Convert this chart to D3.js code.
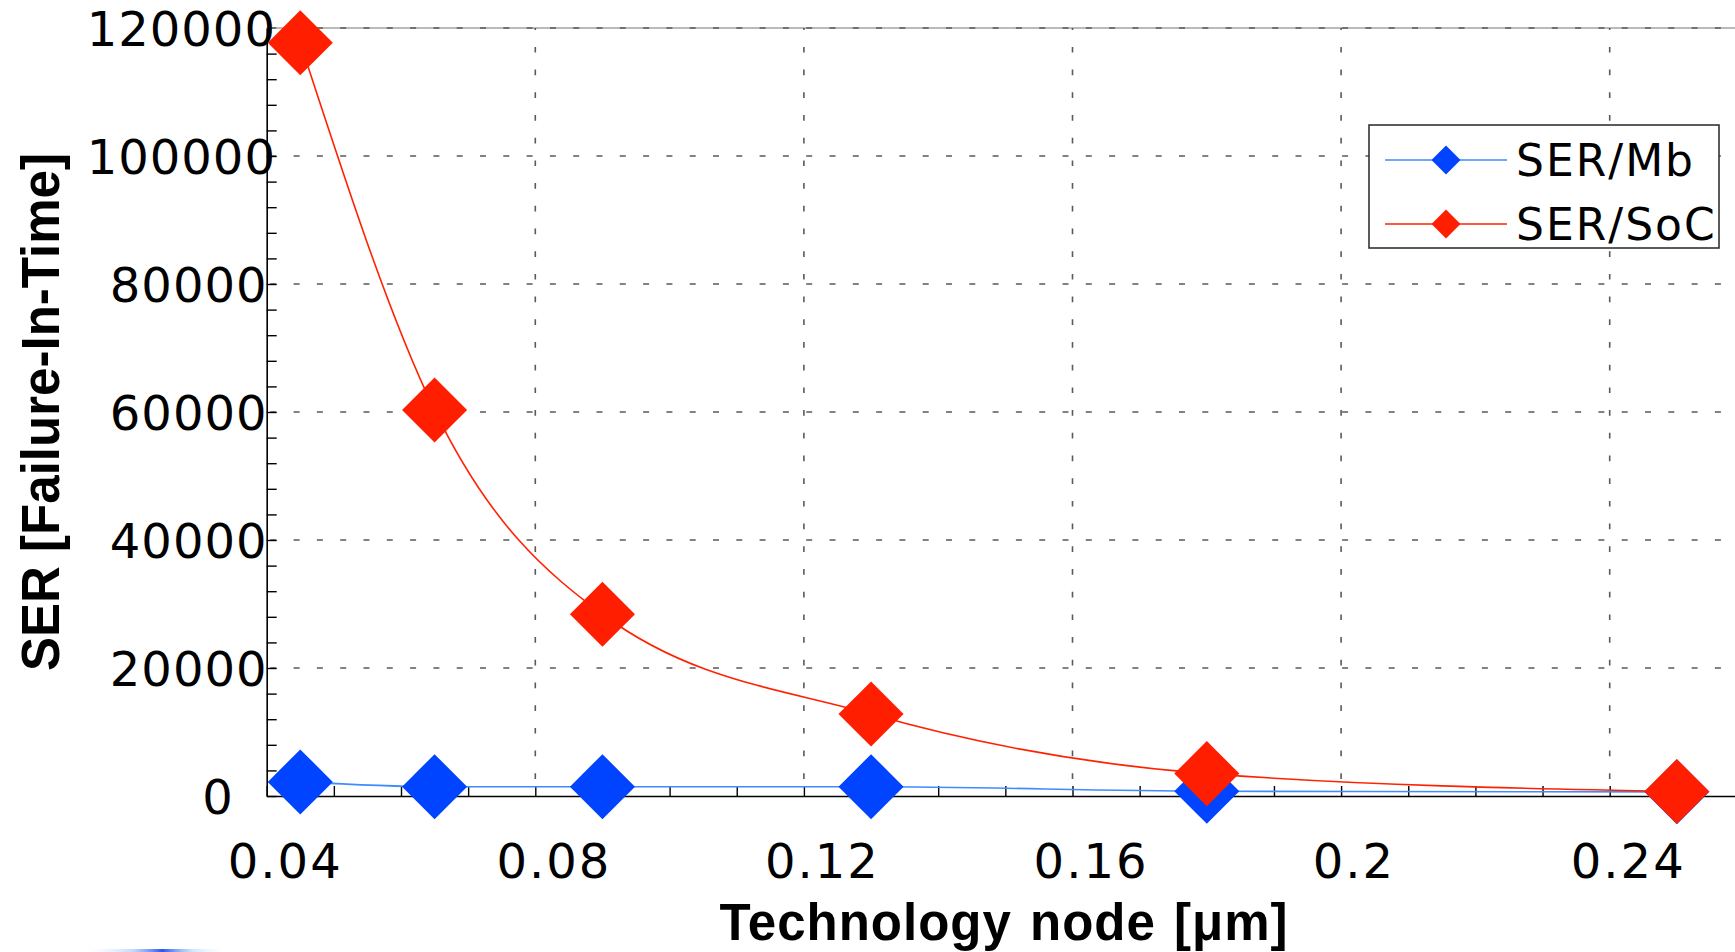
<!DOCTYPE html>
<html>
<head>
<meta charset="utf-8">
<script src="https://cdn.jsdelivr.net/npm/d3@7"></script>
<style>
    body { margin: 0; background: #fff; }
    svg { display: block; }
</style>
</head>
<body>
<div id="chart"></div>
<script>
// technology nodes (um) and soft error rates
var nodes = [0.045, 0.065, 0.09, 0.13, 0.18, 0.25];
var serMb = [2200, 1450, 1450, 1450, 750, 650];
var serSoc = [117700, 60300, 28400, 12800, 3500, 700];

var xTickValues = [0.04, 0.08, 0.12, 0.16, 0.2, 0.24];
var xTickLabels = ["0.04", "0.08", "0.12", "0.16", "0.2", "0.24"];
var yTickValues = [0, 20000, 40000, 60000, 80000, 100000, 120000];
var yTickLabels = ["0", "20000", "40000", "60000", "80000", "100000", "120000"];

var seriesNames = ["SER/Mb", "SER/SoC"];

var width = 1735;
var height = 952;

var x0 = 266.7;
var x = d3.scaleLinear()
    .domain([0.04, 0.26])
    .range([x0, x0 + 0.22 * 6715]);
var y = d3.scaleLinear()
    .domain([0, 120000])
    .range([796, 28]);

var svg = d3.select("#chart").append("svg")
    .attr("width", width)
    .attr("height", height)
    .attr("viewBox", "0 0 " + width + " " + height);

var tickFont = "'DejaVu Sans', 'Open Sans', sans-serif";
var boldFont = "'Liberation Sans', Arial, sans-serif";

// faint blue smear at the bottom edge (part of something cropped below)
var grad = svg.append("defs").append("linearGradient").attr("id", "smear");
grad.append("stop").attr("offset", "0%").attr("stop-color", "#ffffff").attr("stop-opacity", 0);
grad.append("stop").attr("offset", "35%").attr("stop-color", "#9cc2ff").attr("stop-opacity", 0.6);
grad.append("stop").attr("offset", "55%").attr("stop-color", "#2a56e8");
grad.append("stop").attr("offset", "75%").attr("stop-color", "#a8d8ff").attr("stop-opacity", 0.6);
grad.append("stop").attr("offset", "100%").attr("stop-color", "#ffffff").attr("stop-opacity", 0);
svg.append("rect")
    .attr("x", 80).attr("y", 949).attr("width", 150).attr("height", 3)
    .attr("fill", "url(#smear)");

// Grid
var grid = svg.append("g").attr("class", "grid");
grid.append("line")
    .attr("x1", x0).attr("x2", width)
    .attr("y1", y(120000)).attr("y2", y(120000))
    .attr("stroke", "#a3a3a3").attr("stroke-width", 1.5);

grid.selectAll(".hgrid")
    .data(yTickValues.filter(function (d) { return d > 0; }))
    .join("line")
    .attr("class", "hgrid")
    .attr("x1", x0).attr("x2", width)
    .attr("y1", function (d) { return y(d); })
    .attr("y2", function (d) { return y(d); })
    .attr("stroke", "#5a5a5a")
    .attr("stroke-width", 1.6)
    .attr("stroke-dasharray", "6,17.3")
    .attr("stroke-dashoffset", 19.7);

grid.selectAll(".vgrid")
    .data(xTickValues.filter(function (d) { return d > 0.04; }))
    .join("line")
    .attr("class", "vgrid")
    .attr("x1", function (d) { return x(d); })
    .attr("x2", function (d) { return x(d); })
    .attr("y1", y(0)).attr("y2", y(120000))
    .attr("stroke", "#5a5a5a")
    .attr("stroke-width", 1.6)
    .attr("stroke-dasharray", "5.7,17")
    .attr("stroke-dashoffset", 5.7);

// Y axis - minor ticks every 4000, pointing into the plot
var yMinor = d3.range(0, 30).map(function (i) { return i * 4000; });
var yAxis = svg.append("g")
    .attr("transform", "translate(" + x0 + ",0)")
    .call(d3.axisRight(y).tickValues(yMinor).tickSize(10).tickSizeOuter(0).tickFormat(""));
yAxis.select(".domain").attr("stroke", "#000").attr("stroke-width", 1.6);
yAxis.selectAll(".tick line").attr("stroke", "#000").attr("stroke-width", 1.4);

// X axis - minor ticks every 0.01, pointing up
var xMinor = d3.range(4, 27).map(function (i) { return i / 100; });
var xAxis = svg.append("g")
    .attr("transform", "translate(0," + y(0) + ")")
    .call(d3.axisTop(x).tickValues(xMinor).tickSize(10).tickSizeOuter(0).tickFormat(""));
xAxis.select(".domain").attr("stroke", "#000").attr("stroke-width", 1.6);
xAxis.selectAll(".tick line").attr("stroke", "#000").attr("stroke-width", 1.4);

// Tick labels
var yLab = svg.append("g")
    .attr("transform", "translate(" + x0 + ",0)")
    .call(d3.axisLeft(y).tickValues(yTickValues).tickSize(0)
        .tickFormat(function (d, i) { return yTickLabels[i]; }));
yLab.select(".domain").remove();
yLab.selectAll("text")
    .attr("text-anchor", "start")
    .attr("x", function (d, i) { return 225.3 - x0 - yTickLabels[i].length * 23.1; })
    .attr("dy", "0.36em")
    .attr("fill", "#000")
    .style("font-family", tickFont)
    .style("font-size", "48px")
    .style("letter-spacing", "1px");

var xLab = svg.append("g")
    .attr("transform", "translate(0," + y(0) + ")")
    .call(d3.axisBottom(x).tickValues(xTickValues).tickSize(0)
        .tickFormat(function (d, i) { return xTickLabels[i]; }));
xLab.select(".domain").remove();
xLab.selectAll("text")
    .attr("text-anchor", "start")
    .attr("x", function (d, i) { return -xTickLabels[i].length * 10.6 + 3; })
    .attr("y", 82)
    .attr("dy", 0)
    .attr("fill", "#000")
    .style("font-family", tickFont)
    .style("font-size", "48px")
    .style("letter-spacing", "2px");

// Axis titles
svg.append("text")
    .attr("transform", "translate(59,412) rotate(-90)")
    .attr("text-anchor", "middle")
    .attr("textLength", 518)
    .attr("lengthAdjust", "spacingAndGlyphs")
    .style("font-family", boldFont)
    .style("font-weight", "bold")
    .style("font-size", "53px")
    .text("SER [Failure-In-Time]");

svg.append("text")
    .attr("x", 1004)
    .attr("y", 940)
    .attr("text-anchor", "middle")
    .style("font-family", boldFont)
    .style("font-weight", "bold")
    .style("font-size", "51px")
    .style("letter-spacing", "1px")
    .style("word-spacing", "3px")
    .text("Technology node [\u03bcm]");

// Series
var series = [
    { name: seriesNames[0], values: serMb, line: "#3f8cff", mark: "#0044ff" },
    { name: seriesNames[1], values: serSoc, line: "#ff2200", mark: "#ff1f00" }
];

var line = d3.line()
    .x(function (d) { return x(d.node); })
    .y(function (d) { return y(d.v); })
    .curve(d3.curveMonotoneX);

var diamond = d3.symbol().type(d3.symbolSquare).size(2116);

series.forEach(function (s) {
    var pts = nodes.map(function (n, i) { return { node: n, v: s.values[i] }; });
    svg.append("path")
        .datum(pts)
        .attr("fill", "none")
        .attr("stroke", s.line)
        .attr("stroke-width", 1.6)
        .attr("d", line);
    svg.append("g").selectAll("path")
        .data(pts)
        .join("path")
        .attr("d", diamond)
        .attr("transform", function (d) {
            return "translate(" + x(d.node) + "," + y(d.v) + ") rotate(45)";
        })
        .attr("fill", s.mark);
});

// Legend
var legend = svg.append("g").attr("transform", "translate(1369,125)");
legend.append("rect")
    .attr("width", 350).attr("height", 123)
    .attr("fill", "#fff")
    .attr("stroke", "#333").attr("stroke-width", 1.6);

var legendDiamond = d3.symbol().type(d3.symbolSquare).size(420);
series.forEach(function (s, i) {
    var ly = 35 + i * 64;
    legend.append("line")
        .attr("x1", 16).attr("x2", 138)
        .attr("y1", ly).attr("y2", ly)
        .attr("stroke", s.line).attr("stroke-width", 1.6);
    legend.append("path")
        .attr("d", legendDiamond)
        .attr("transform", "translate(77," + ly + ") rotate(45)")
        .attr("fill", s.mark);
    legend.append("text")
        .attr("x", 147).attr("y", ly)
        .attr("dy", "0.36em")
        .style("font-family", tickFont)
        .style("font-size", "44px")
        .style("letter-spacing", "2px")
        .text(s.name);
});
</script>
</body>
</html>
